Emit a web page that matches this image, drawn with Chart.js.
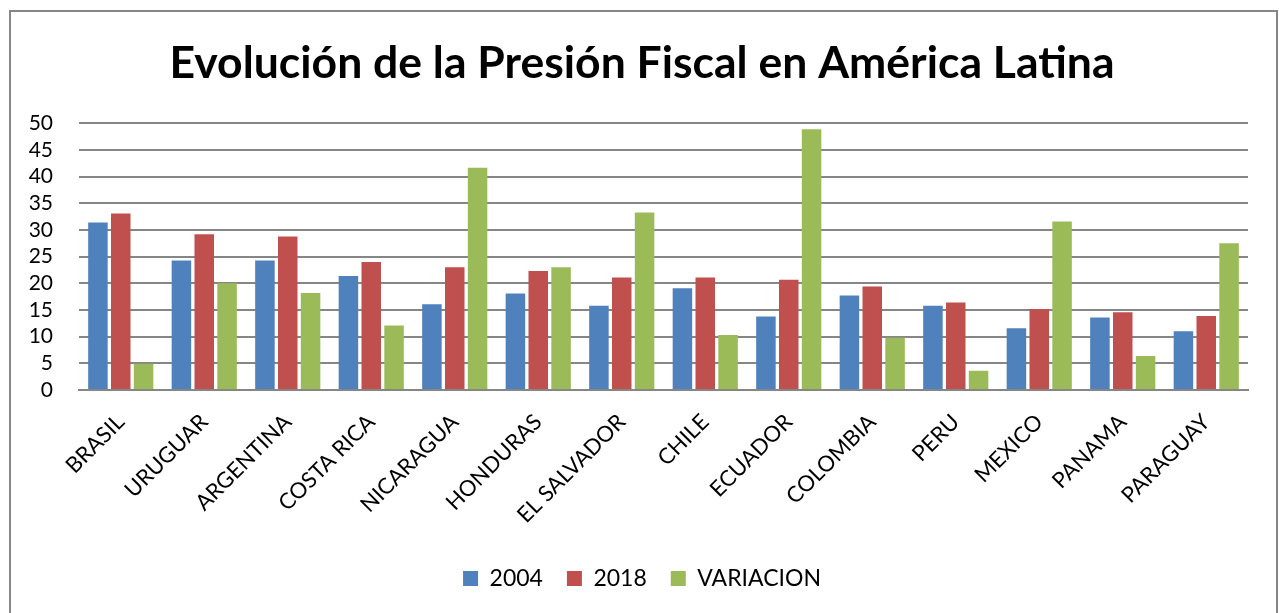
<!DOCTYPE html>
<html>
<head>
<meta charset="utf-8">
<script src="https://cdn.jsdelivr.net/npm/chart.js@4"></script>
<style>
html,body{margin:0;padding:0;background:#fff;}
#wrap{position:absolute;left:0;top:0;width:1279px;height:613px;}
</style>
</head>
<body>
<div id="wrap"><canvas id="c" width="1279" height="613"></canvas></div>
<script>
const categories = ["BRASIL","URUGUAR","ARGENTINA","COSTA RICA","NICARAGUA","HONDURAS","EL SALVADOR","CHILE","ECUADOR","COLOMBIA","PERU","MEXICO","PANAMA","PARAGUAY"];
const values2004 = [31.4,24.3,24.3,21.4,16.1,18.1,15.8,19.1,13.8,17.7,15.8,11.6,13.6,11.0];
const values2018 = [33.1,29.2,28.8,24.0,23.0,22.3,21.1,21.1,20.7,19.4,16.4,15.2,14.6,13.9];
const valuesVariacion = [4.9,20.0,18.2,12.1,41.7,23.0,33.3,10.3,48.9,9.8,3.6,31.6,6.4,27.5];
const yTicks = [0,5,10,15,20,25,30,35,40,45,50];
const titleText = "Evolución de la Presión Fiscal en América Latina";
const seriesNames = ["2004","2018","VARIACION"];
const seriesColors = ["#4F81BD","#C0504D","#9BBB59"];

const FONT = "Lato, 'Liberation Sans', sans-serif";

const borderPlugin = {
  id: 'outerBorder',
  beforeDraw(chart){
    const ctx = chart.ctx;
    ctx.save();
    ctx.fillStyle = '#fff';
    ctx.fillRect(0,0,chart.width,chart.height);
    ctx.strokeStyle = '#868686';
    ctx.lineWidth = 2;
    ctx.strokeRect(10,11,1267,620);
    ctx.restore();
  }
};

new Chart(document.getElementById('c'), {
  type: 'bar',
  data: {
    labels: categories,
    datasets: [values2004, values2018, valuesVariacion].map((d,i)=>({
      label: seriesNames[i],
      data: d,
      backgroundColor: seriesColors[i],
      borderWidth: 0,
      categoryPercentage: 0.82,
      barPercentage: 0.855,
      yAxisID: 'y'
    }))
  },
  options: {
    responsive: false,
    animation: false,
    devicePixelRatio: 1,
    layout: { padding: { left: 18, right: 13, top: 10, bottom: 13 } },
    plugins: {
      title: {
        display: true,
        text: titleText,
        color: '#000',
        font: { family: FONT, size: 44.5, weight: 'bold', lineHeight: 1.2 },
        padding: { top: 27, bottom: 33 }
      },
      legend: {
        position: 'bottom',
        labels: {
          color: '#000',
          font: { family: FONT, size: 23 },
          boxWidth: 15, boxHeight: 15,
          padding: 24
        }
      },
      tooltip: { enabled: false }
    },
    scales: {
      x: {
        grid: { display: false },
        border: { color: '#868686', width: 2 },
        afterFit(axis){ axis.height = 153; },
        ticks: {
          color: '#000',
          font: { family: FONT, size: 22 },
          maxRotation: 45, minRotation: 45,
          autoSkip: false,
          padding: 11
        }
      },
      y: {
        min: 0, max: 50,
        afterBuildTicks(axis){ axis.ticks = yTicks.map(v=>({value:v})); },
        afterFit(axis){ axis.width = 61; },
        grid: { color: '#868686', lineWidth: 2, drawTicks: false },
        border: { display: false },
        ticks: {
          color: '#000',
          font: { family: FONT, size: 21 },
          padding: 26,
          autoSkip: false
        }
      },
      yRight: {
        position: 'right',
        min: 0, max: 50,
        afterFit(axis){ axis.width = 18; },
        grid: { display: false, drawOnChartArea: false },
        border: { display: false },
        ticks: { display: false }
      }
    }
  },
  plugins: [borderPlugin]
});
</script>
</body>
</html>
